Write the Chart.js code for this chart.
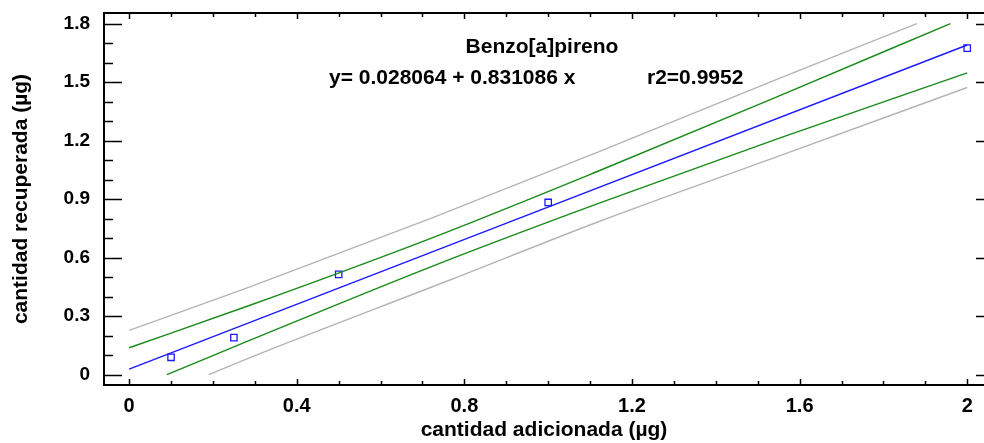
<!DOCTYPE html>
<html>
<head>
<meta charset="utf-8">
<script src="https://cdn.jsdelivr.net/npm/chart.js@4.4.1/dist/chart.umd.min.js"></script>
<style>
  html, body { margin: 0; padding: 0; background: #fff; }
  canvas { display: block; }
</style>
</head>
<body>
<canvas id="chart" width="984" height="443"></canvas>
<script>
// recovery data (added vs recovered, µg)
const addedX = [0.1, 0.25, 0.5, 1.0, 2.0];
const recoveredY = [0.089, 0.19, 0.514, 0.883, 1.674];

// fitted line y = 0.028064 + 0.831086 x
const fitX = [0, 2];
const fitY = [0.028, 1.690];

// confidence limits (green)
const confUpX = [0, 0.29, 0.72, 1.12, 1.55, 1.96];
const confUpY = [0.138, 0.357, 0.699, 1.044, 1.428, 1.80];
const confLoX = [0.09, 0.29, 0.72, 1.12, 1.55, 2];
const confLoY = [0, 0.178, 0.553, 0.878, 1.211, 1.547];

// prediction limits (grey)
const predUpX = [0, 0.29, 0.72, 1.12, 1.55, 1.88];
const predUpY = [0.227, 0.451, 0.801, 1.142, 1.518, 1.80];
const predLoX = [0.19, 0.29, 0.77, 1.12, 1.55, 2];
const predLoY = [0, 0.089, 0.489, 0.784, 1.120, 1.472];

// ticks
const xMajor = [0, 0.4, 0.8, 1.2, 1.6, 2];
const xMinor = [0, 0.1, 0.2, 0.3, 0.4, 0.5, 0.6, 0.7, 0.8, 0.9, 1.0,
                1.1, 1.2, 1.3, 1.4, 1.5, 1.6, 1.7, 1.8, 1.9, 2.0];
const yMajor = [0, 0.3, 0.6, 0.9, 1.2, 1.5, 1.8];
const yMinor = [0, 0.1, 0.2, 0.3, 0.4, 0.5, 0.6, 0.7, 0.8, 0.9,
                1.0, 1.1, 1.2, 1.3, 1.4, 1.5, 1.6, 1.7, 1.8];

const titleText = "Benzo[a]pireno";
const eqText = "y= 0.028064 + 0.831086 x";
const r2Text = "r2=0.9952";

const FONT = "'Liberation Sans', Arial, sans-serif";

function pts(xs, ys) {
  return xs.map((x, i) => ({ x: x, y: ys[i] }));
}

function lineSet(xs, ys, color) {
  return {
    type: "line",
    data: pts(xs, ys),
    borderColor: color,
    borderWidth: 1.4,
    pointRadius: 0,
    cubicInterpolationMode: "monotone",
    fill: false
  };
}

// no label overhang padding, so the plot box sits where we want it
function noPad(s) {
  s.paddingLeft = 0;
  s.paddingRight = 0;
  s.paddingTop = 0;
  s.paddingBottom = 0;
}

// frame, inward tick marks, x labels and text annotations
const framePlugin = {
  id: "frame",
  afterDraw(chart) {
    const ctx = chart.ctx;
    const a = chart.chartArea;
    const xs = chart.scales.x;
    const ys = chart.scales.y;
    ctx.save();
    ctx.strokeStyle = "#000";
    ctx.lineWidth = 2;
    ctx.strokeRect(a.left, a.top, a.right - a.left + 2, a.bottom - a.top);

    ctx.lineWidth = 1.5;
    ctx.beginPath();
    xMinor.forEach(v => {
      const px = Math.round(xs.getPixelForValue(v)) + 0.5;
      const big = xMajor.some(m => Math.abs(m - v) < 1e-9);
      const len = big ? 6 : 4;
      ctx.moveTo(px, a.bottom);
      ctx.lineTo(px, a.bottom - len);
      ctx.moveTo(px, a.top);
      ctx.lineTo(px, a.top + len);
    });
    yMinor.forEach(v => {
      const py = Math.round(ys.getPixelForValue(v)) + 0.5;
      const big = yMajor.some(m => Math.abs(m - v) < 1e-9);
      ctx.moveTo(a.left, py);
      ctx.lineTo(a.left + (big ? 18 : 9), py);
      if (big) {
        ctx.moveTo(a.right, py);
        ctx.lineTo(a.right - 8, py);
      }
    });
    ctx.stroke();

    ctx.fillStyle = "#000";
    ctx.font = "bold 20px " + FONT;
    ctx.textAlign = "center";
    ctx.textBaseline = "top";
    xMajor.forEach(v => {
      ctx.fillText(String(v), xs.getPixelForValue(v), a.bottom + 11);
    });

    ctx.font = "bold 21px " + FONT;
    ctx.textBaseline = "middle";
    ctx.fillText(titleText, 542, 47);
    ctx.textAlign = "left";
    ctx.fillText(eqText, 329, 78);
    ctx.fillText(r2Text, 647, 78);
    ctx.restore();
  }
};

const ctx = document.getElementById("chart").getContext("2d");

new Chart(ctx, {
  type: "scatter",
  data: {
    datasets: [
      lineSet(predUpX, predUpY, "#b4b4b4"),
      lineSet(predLoX, predLoY, "#b4b4b4"),
      lineSet(confUpX, confUpY, "#1a8a1a"),
      lineSet(confLoX, confLoY, "#1a8a1a"),
      lineSet(fitX, fitY, "#1a1aff"),
      {
        type: "scatter",
        data: pts(addedX, recoveredY),
        pointStyle: "rect",
        pointRadius: 4.5,
        borderColor: "#1a1aff",
        backgroundColor: "#fff",
        borderWidth: 1.3
      }
    ]
  },
  options: {
    responsive: false,
    animation: false,
    devicePixelRatio: 1,
    layout: { autoPadding: false, padding: { top: 13, right: 0, left: 0, bottom: 0 } },
    plugins: {
      legend: { display: false },
      tooltip: { enabled: false }
    },
    scales: {
      x: {
        type: "linear",
        min: -0.06,
        max: 2.04,
        afterBuildTicks: s => { s.ticks = xMajor.map(v => ({ value: v })); },
        afterFit: s => { s.height = 58; noPad(s); },
        grid: { display: false, drawTicks: false },
        border: { display: false },
        ticks: { display: false },
        title: {
          display: true,
          text: "cantidad adicionada (µg)",
          color: "#000",
          font: { family: FONT, size: 21, weight: "bold" },
          padding: { top: 0, bottom: 0 }
        }
      },
      y: {
        type: "linear",
        min: -0.053,
        max: 1.854,
        afterBuildTicks: s => { s.ticks = yMajor.map(v => ({ value: v })); },
        afterFit: s => { s.width = 104; noPad(s); },
        grid: { display: false, drawTicks: false },
        border: { display: false },
        ticks: {
          color: "#000",
          font: { family: FONT, size: 19, weight: "bold" },
          padding: 14,
          callback: v => String(v)
        },
        title: {
          display: true,
          text: "cantidad recuperada (µg)",
          color: "#000",
          font: { family: FONT, size: 21, weight: "bold" },
          padding: { top: 9, bottom: 0 }
        }
      }
    }
  },
  plugins: [framePlugin]
});
</script>
</body>
</html>
